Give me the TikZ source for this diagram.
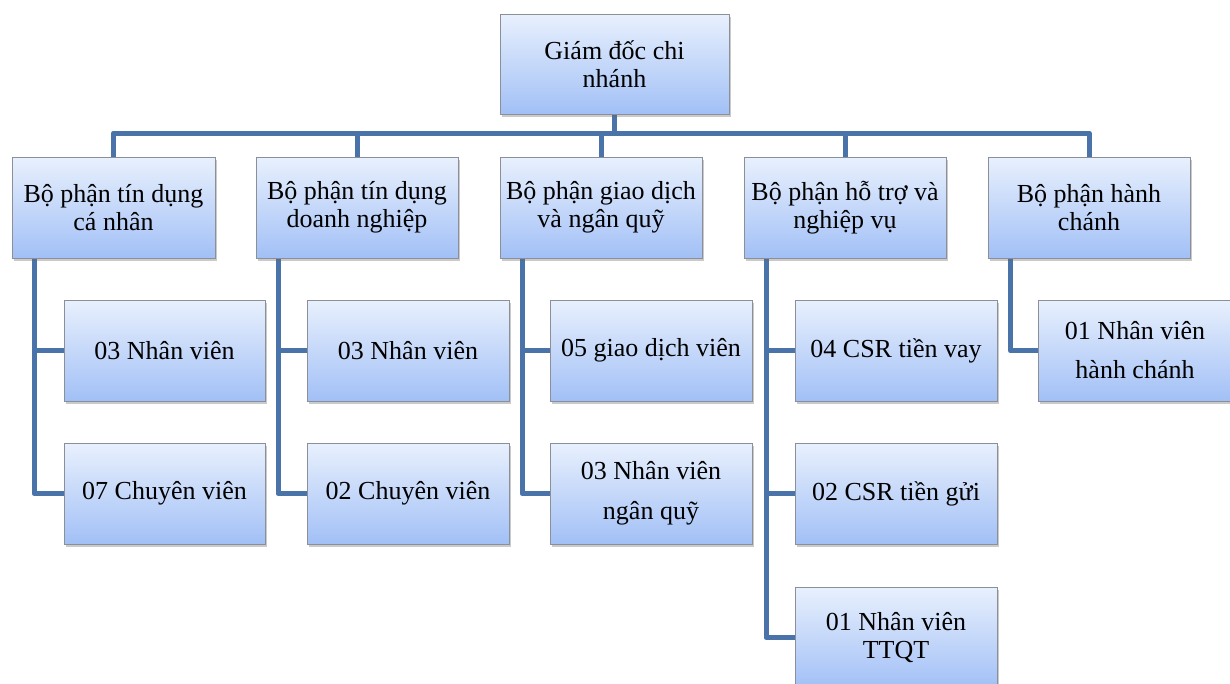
\documentclass[tikz,border=0pt]{standalone}
\usepackage{fontspec}
\setmainfont{Liberation Serif}
\usetikzlibrary{shadows,backgrounds}
\definecolor{boxtop}{HTML}{E8F0FD}
\definecolor{boxbot}{HTML}{A2C0F6}
\definecolor{boxline}{HTML}{8A8F98}
\definecolor{conn}{HTML}{4A73A9}
\tikzset{
  orgbox/.style={draw=boxline, line width=0.8pt, top color=boxtop, bottom color=boxbot,
    align=center, inner sep=0pt, font=\fontsize{26}{28}\selectfont,
    drop shadow={shadow xshift=2pt, shadow yshift=-3pt, opacity=0.35, fill=black!60}},
  conn/.style={draw=conn, line width=5pt, line join=round}
}
\begin{document}
\begin{tikzpicture}[x=1pt,y=-1pt]
\useasboundingbox (0,0) rectangle (1230,683);
\clip (0,0) rectangle (1230,683);
% top
\node[orgbox, minimum width=229pt, minimum height=100pt] (g) at (614.5,64) {Giám đốc chi\\nhánh};
% level 1
\node[orgbox, minimum width=203pt, minimum height=101pt] (d1) at (113.5,207.5) {Bộ phận tín dụng\\cá nhân};
\node[orgbox, minimum width=202pt, minimum height=101pt] (d2) at (357,207.5) {Bộ phận tín dụng\\doanh nghiệp};
\node[orgbox, minimum width=202pt, minimum height=101pt] (d3) at (601,207.5) {Bộ phận giao dịch\\và ngân quỹ};
\node[orgbox, minimum width=202pt, minimum height=101pt] (d4) at (845,207.5) {Bộ phận hỗ trợ và\\nghiệp vụ};
\node[orgbox, minimum width=202pt, minimum height=101pt] (d5) at (1089,207.5) {Bộ phận hành\\chánh};
% level 2
\node[orgbox, minimum width=201pt, minimum height=101pt] (a1) at (164.5,350.5) {03 Nhân viên};
\node[orgbox, minimum width=201pt, minimum height=101pt] (a2) at (164.5,493.5) {07 Chuyên viên};
\node[orgbox, minimum width=202pt, minimum height=101pt] (b1) at (408,350.5) {03 Nhân viên};
\node[orgbox, minimum width=202pt, minimum height=101pt] (b2) at (408,493.5) {02 Chuyên viên};
\node[orgbox, minimum width=202pt, minimum height=101pt] (c1) at (651,350.5) {05 giao dịch viên};
\node[orgbox, minimum width=202pt, minimum height=101pt] (c2) at (651,493.5) {03 Nhân viên\\[12pt]ngân quỹ};
\node[orgbox, minimum width=202pt, minimum height=101pt] (e1) at (896,350.5) {04 CSR tiền vay};
\node[orgbox, minimum width=202pt, minimum height=101pt] (e2) at (896,493.5) {02 CSR tiền gửi};
\node[orgbox, minimum width=202pt, minimum height=101pt] (e3) at (896,637.5) {01 Nhân viên\\TTQT};
\node[orgbox, minimum width=194pt, minimum height=101pt] (f1) at (1135,350.5) {01 Nhân viên\\[11pt]hành chánh};
% connectors
\begin{scope}[on background layer]
\coordinate (bus) at (0,133);
\foreach \d in {d1,d2,d3,d4,d5}{
  \draw[conn] (g.south) |- (bus -| \d.north) -- (\d.north);
}
\foreach \p/\c in {d1/a1,d1/a2,d2/b1,d2/b2,d3/c1,d3/c2,d4/e1,d4/e2,d4/e3,d5/f1}{
  \draw[conn] ([xshift=22.5pt]\p.south west) |- (\c.west);
}
\end{scope}
\end{tikzpicture}
\end{document}
